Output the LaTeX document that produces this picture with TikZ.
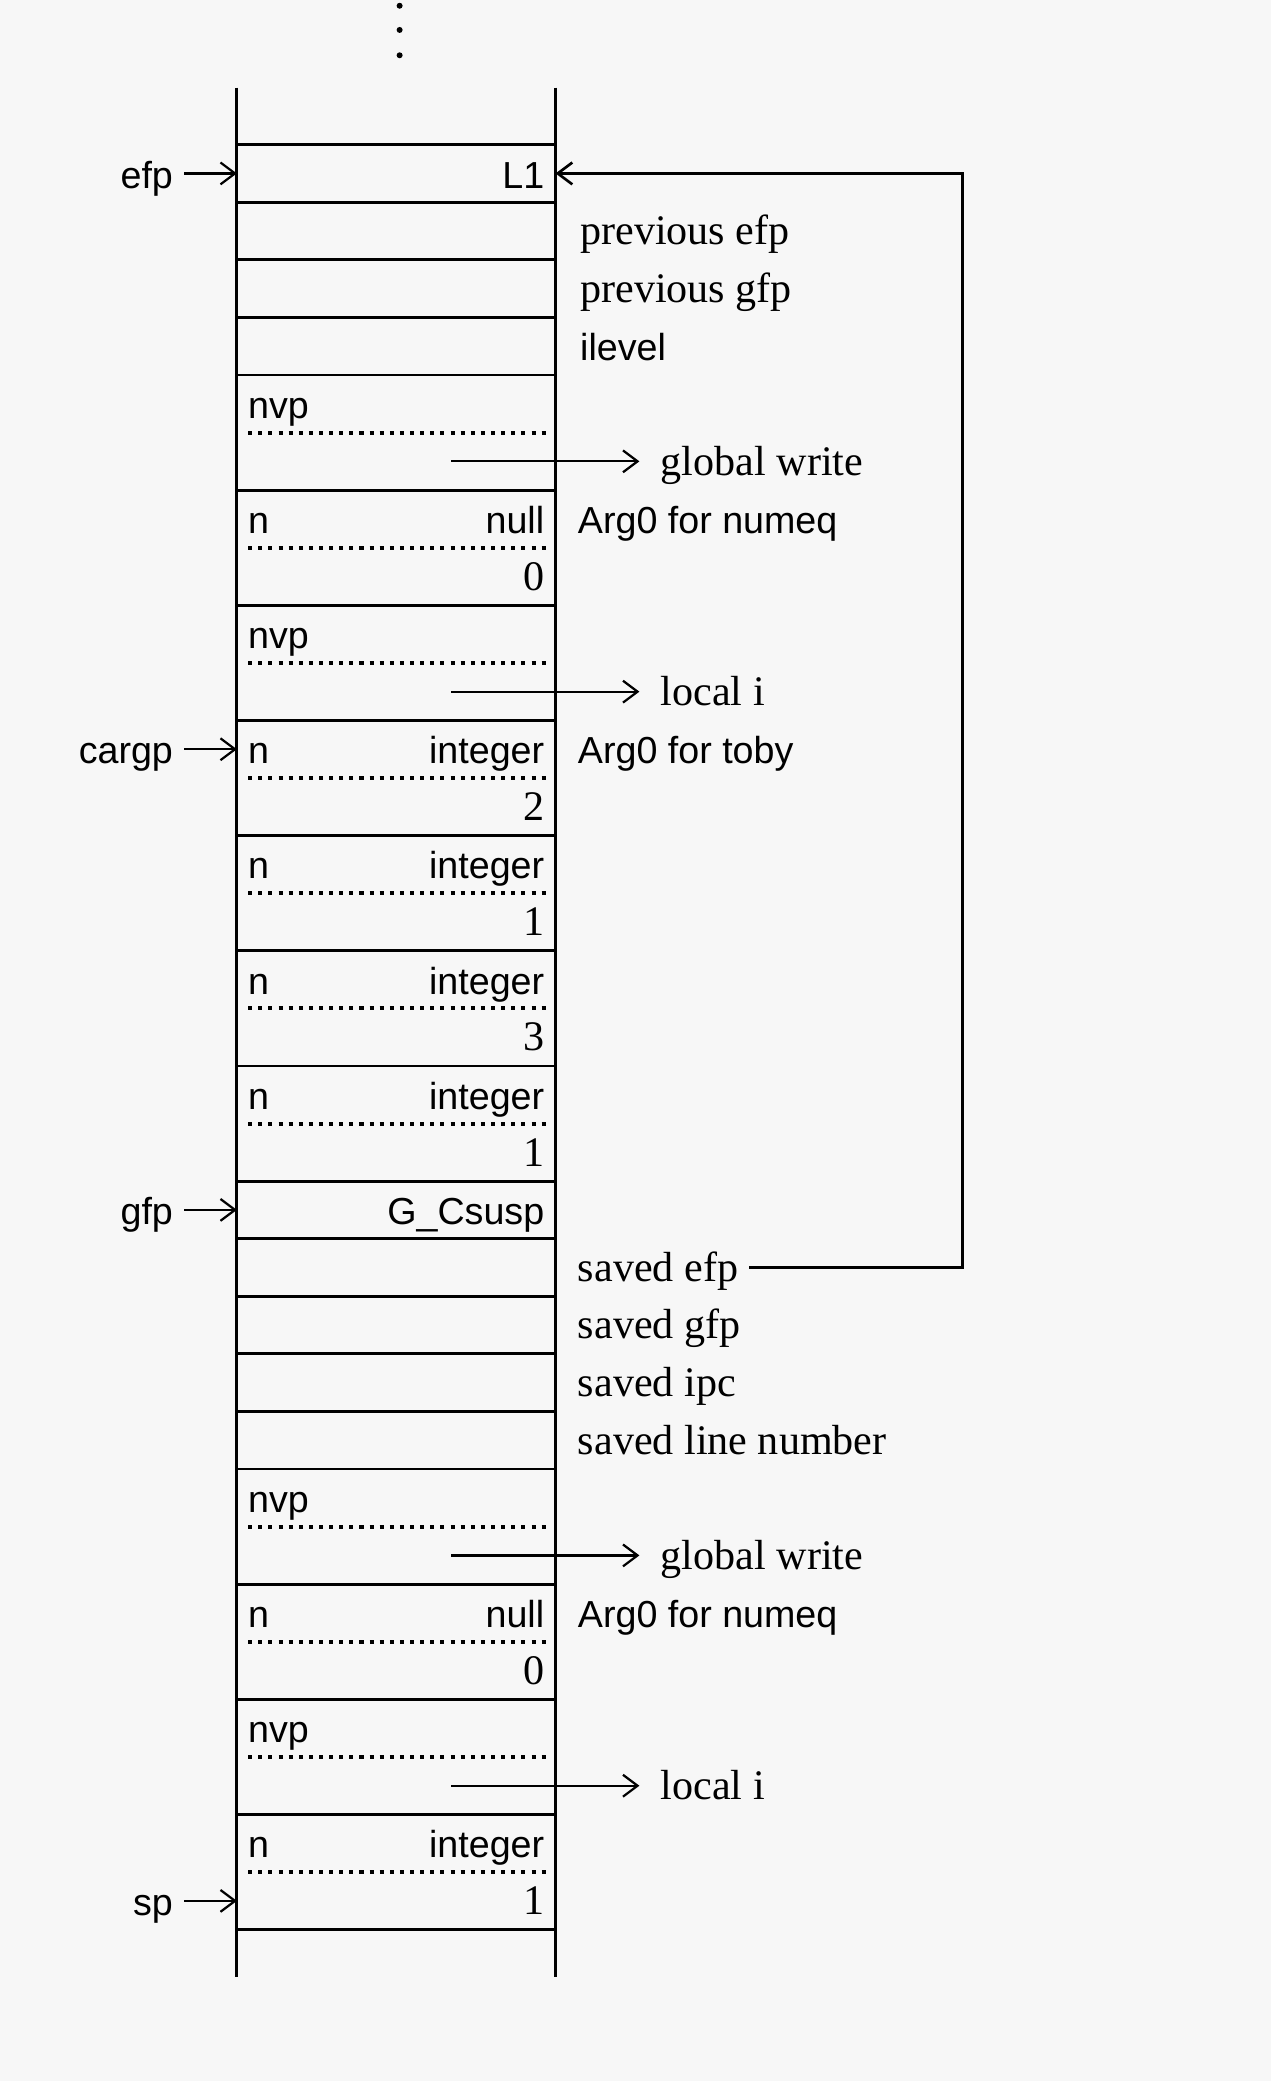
\documentclass[tikz,border=0pt]{standalone}
\usepackage{fontspec}
\usetikzlibrary{arrows.meta}
\setmainfont{Liberation Serif}
\setsansfont{Liberation Sans}
\definecolor{paper}{RGB}{247,247,247}

\begin{document}
\begin{tikzpicture}[
    >={Straight Barb[length=3.6pt, width=5.4pt]},
    cell/.style={font=\sffamily\fontsize{9.3}{11}\selectfont, text height=0.72em, text depth=0pt, inner sep=2.6pt},
    word/.style={font=\rmfamily\fontsize{10.4}{12}\selectfont, text height=0.68em, text depth=0pt, inner sep=2.6pt},
    rule/.style={line width=0.7pt},
    sep/.style={line width=1pt, dash pattern=on 1pt off 1.5pt},
    ptr/.style={->, line width=0.55pt},
  ]
  \fill[paper] (0,0) rectangle (11.04,-18.07);
  \useasboundingbox (0,0) rectangle (11.04,-18.07);

  % more of the stack above
  \foreach \y in {-0.05,-0.26,-0.48}
    \fill (3.47,\y) circle (0.026);

  \begin{scope}[yshift=-1.256cm, y=-0.5cm]
    % Stack walls and slots
    \draw[rule] (2.057,-0.99) -- (2.057,31.83);
    \draw[rule] (4.824,-0.99) -- (4.824,31.83);
    \foreach \k in {0,1,2,3,4,6,8,10,12,14,16,18,19,20,21,22,23,25,27,29,31}
      \draw[rule] (2.057,\k) -- (4.824,\k);
    \foreach \k in {5,7,9,11,13,15,17,24,26,28,30}
      \draw[sep] (2.155,\k) -- (4.737,\k);

    % Slot contents
    \node[cell, anchor=east] (l1) at (4.824,0.5) {L1};
    \node[cell, anchor=east] (gcsusp) at (4.824,18.5) {G\_Csusp};
    \foreach \r [count=\i] in {4,8,23,27}
      \node[cell, anchor=west] (nvp\i) at (2.057,\r+0.5) {nvp};
    \foreach \r/\t/\v [count=\i] in {6/null/0, 10/integer/2, 12/integer/1, 14/integer/3,
                                     16/integer/1, 25/null/0, 29/integer/1} {
      \node[cell, anchor=west] (tag\i) at (2.057,\r+0.5) {n};
      \node[cell, anchor=east] (type\i) at (4.824,\r+0.5) {\t};
      \node[word, anchor=east] (val\i) at (4.824,\r+1.5) {\v};
    }

    % Notes beside the slots
    \node[word, anchor=west] (prevefp) at (4.94,1.5) {previous efp};
    \node[word, anchor=west] (prevgfp) at (4.94,2.5) {previous gfp};
    \node[cell, anchor=west] (ilevel) at (4.94,3.5) {ilevel};
    \node[cell, anchor=west] (numeqa) at (4.92,6.5) {Arg0 for numeq};
    \node[cell, anchor=west] (toby) at (4.92,10.5) {Arg0 for toby};
    \node[word, anchor=west] (sefp) at (4.92,19.5) {saved efp};
    \node[word, anchor=west] (sgfp) at (4.92,20.5) {saved gfp};
    \node[word, anchor=west] (sipc) at (4.92,21.5) {saved ipc};
    \node[word, anchor=west] (sline) at (4.92,22.5) {saved line number};
    \node[cell, anchor=west] (numeqb) at (4.92,25.5) {Arg0 for numeq};

    % Name pointers
    \foreach \r/\txt/\nm in {5/global write/gwa, 9/local i/lia, 24/global write/gwb, 28/local i/lib} {
      \node[word, anchor=west] (\nm) at (5.64,\r+0.5) {\txt};
      \coordinate (\nm-src) at (3.92,\r+0.5);
      \draw[ptr, shorten >=2.5pt] (\nm-src) -- (\nm);
    }

    % Frame pointers
    \foreach \r/\nm in {0.5/efp, 10.5/cargp, 18.5/gfp, 30.5/sp} {
      \node[cell, anchor=east] (\nm) at (1.6,\r) {\nm};
      \coordinate (\nm-slot) at (2.057,\r);
      \draw[ptr] (\nm) -- (\nm-slot);
    }

    % Saved efp goes back to L1
    \coordinate (l1-edge) at (4.824,0.5);
    \coordinate (bend) at (8.36,0.5);
    \draw[ptr, line width=0.65pt] (sefp) -| (bend) -- (l1-edge);
  \end{scope}
\end{tikzpicture}
\end{document}
